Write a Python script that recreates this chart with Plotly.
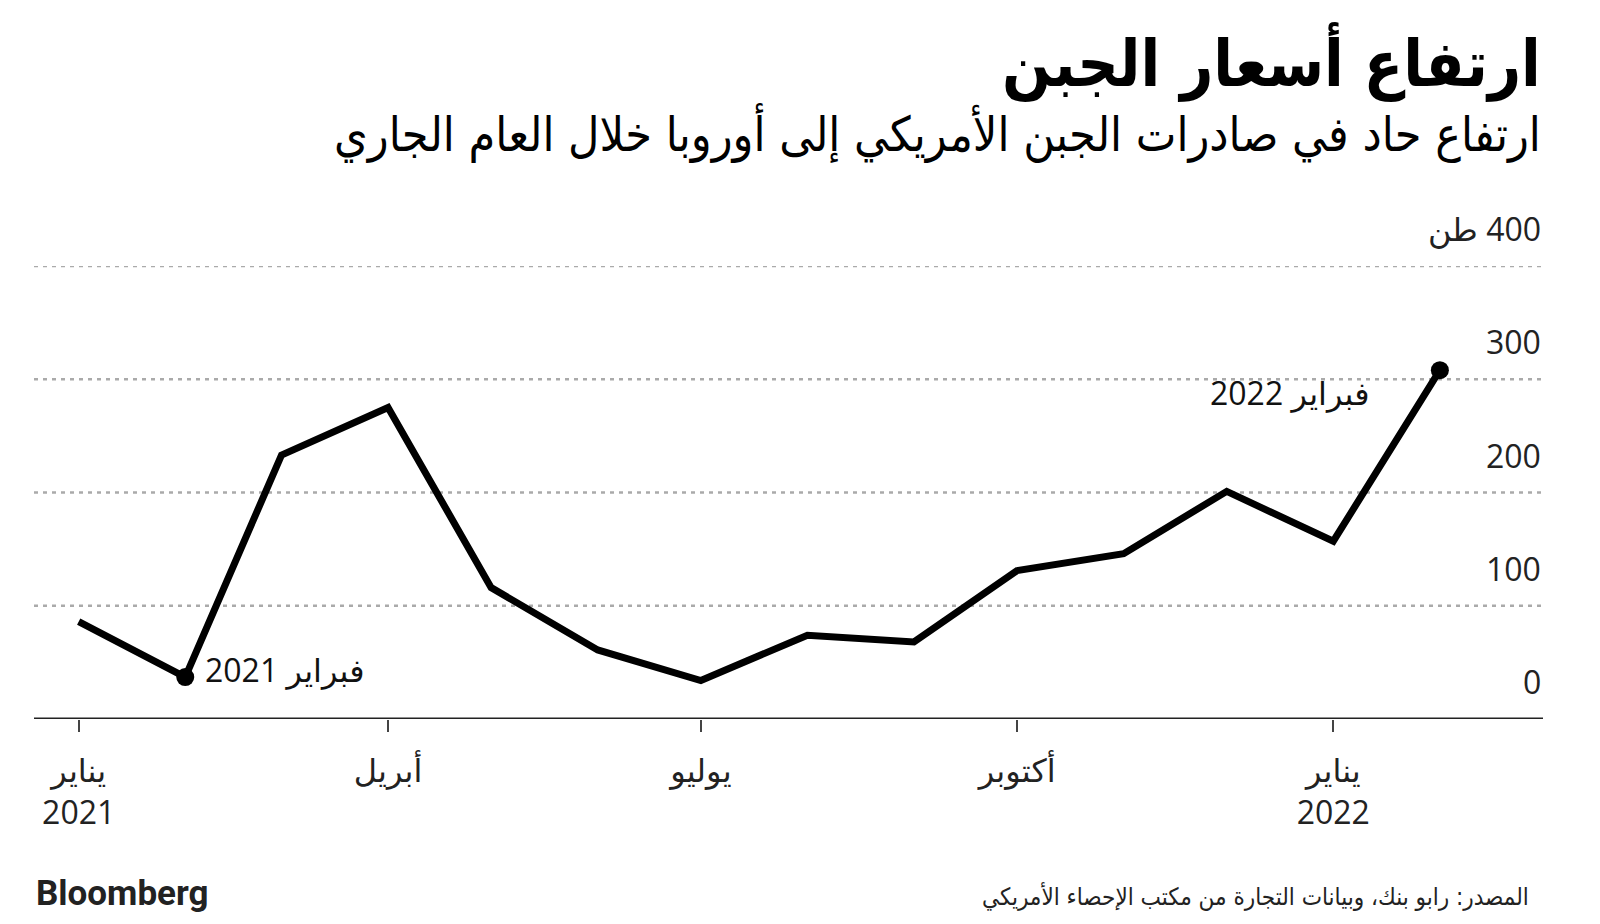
import plotly.graph_objects as go

months = ["2021-01-01", "2021-02-01", "2021-03-01", "2021-04-01", "2021-05-01", "2021-06-01",
          "2021-07-01", "2021-08-01", "2021-09-01", "2021-10-01", "2021-11-01", "2021-12-01",
          "2022-01-01", "2022-02-01"]
values = [86, 37, 233, 275, 116, 61, 34, 74, 68, 131, 146, 201, 157, 308]

tick_dates = ["2021-01-01", "2021-04-01", "2021-07-01", "2021-10-01", "2022-01-01"]
tick_text = ["يناير<br>2021", "أبريل", "يوليو", "أكتوبر", "يناير<br>2022"]
y_ticks = [0, 100, 200, 300, 400]
y_labels = ["0", "100", "200", "300", "\u202B400 طن\u202C"]

title = "ارتفاع أسعار الجبن"
subtitle = "ارتفاع حاد في صادرات الجبن الأمريكي إلى أوروبا خلال العام الجاري"
source = "المصدر: رابو بنك، وبيانات التجارة من مكتب الإحصاء الأمريكي"

fig = go.Figure()
fig.add_trace(go.Scatter(x=months, y=values, mode="lines",
                         line=dict(color="black", width=7), cliponaxis=False,
                         hoverinfo="skip"))
fig.add_trace(go.Scatter(x=[months[1], months[-1]], y=[values[1], values[-1]], mode="markers",
                         marker=dict(color="black", size=18), cliponaxis=False,
                         hoverinfo="skip"))

font_txt = "Open Sans, DejaVu Sans, sans-serif"
font_ar = "DejaVu Sans Condensed, DejaVu Sans, sans-serif"

fig.update_layout(
    width=1600, height=924,
    margin=dict(l=34, r=57, t=266, b=205),
    paper_bgcolor="white", plot_bgcolor="white",
    showlegend=False,
    xaxis=dict(type="date", range=["2020-12-19", "2022-03-03"], tickmode="array",
               tickvals=tick_dates, ticktext=tick_text,
               showgrid=False, zeroline=False, showline=False,
               ticks="outside", ticklen=12, tickwidth=2, tickcolor="#444",
               ticklabelstandoff=12,
               tickfont=dict(size=32, color="#222", family=font_txt)),
    yaxis=dict(range=[0, 400], showticklabels=False, showgrid=False,
               zeroline=False, showline=False),
)

# dashed gridlines
for v in y_ticks[1:]:
    fig.add_shape(type="line", xref="paper", yref="y", x0=0, x1=1, y0=v, y1=v,
                  line=dict(color="#aaaaaa", width=2.5, dash="4px,5px"), layer="below")

# baseline
fig.add_shape(type="line", xref="paper", yref="y", x0=0, x1=1, y0=0, y1=0,
              line=dict(color="#222", width=3))

# y labels above gridlines
for v, t in zip(y_ticks, y_labels):
    fig.add_annotation(x=1, xref="paper", y=v, yref="y", text=t, showarrow=False,
                       xanchor="right", yanchor="bottom", yshift=14,
                       font=dict(size=32, color="#222", family=font_txt))

# point annotations
fig.add_annotation(x=months[1], y=values[1], text="فبراير 2021", showarrow=False,
                   xanchor="left", yanchor="middle", xshift=18, yshift=8,
                   font=dict(size=32, color="#111", family=font_txt))
fig.add_annotation(x=months[-1], y=values[-1], text="فبراير 2022", showarrow=False,
                   xanchor="right", yanchor="middle", xshift=-68, yshift=-22,
                   font=dict(size=32, color="#111", family=font_txt))

# titles (pixel coords converted to paper below)
fig.add_annotation(x=1543, y=924 - 62, xref="paper", yref="paper", text="<b>" + title + "</b>",
                   showarrow=False, xanchor="right", yanchor="middle",
                   font=dict(size=64, color="black", family=font_ar))
fig.add_annotation(x=1543, y=924 - 133, xref="paper", yref="paper", text=subtitle,
                   showarrow=False, xanchor="right", yanchor="middle",
                   font=dict(size=48, color="black", family=font_ar))
fig.add_annotation(x=1531, y=924 - 896, xref="paper", yref="paper", text=source,
                   showarrow=False, xanchor="right", yanchor="middle",
                   font=dict(size=24, color="#222", family=font_ar))
fig.add_annotation(x=34, y=924 - 893, xref="paper", yref="paper", text="<b>Bloomberg</b>",
                   showarrow=False, xanchor="left", yanchor="middle",
                   font=dict(size=35, color="#222", family="Roboto, Liberation Sans, sans-serif"))

plot_l, plot_r, plot_t, plot_b = 34, 1600 - 57, 266, 924 - 205
pw, ph = plot_r - plot_l, plot_b - plot_t
for ann in fig.layout.annotations:
    if ann.xref == "paper" and ann.yref == "paper":
        ann.x = (ann.x - plot_l) / pw
        ann.y = (ann.y - 205) / ph

fig.write_html("out.html")
